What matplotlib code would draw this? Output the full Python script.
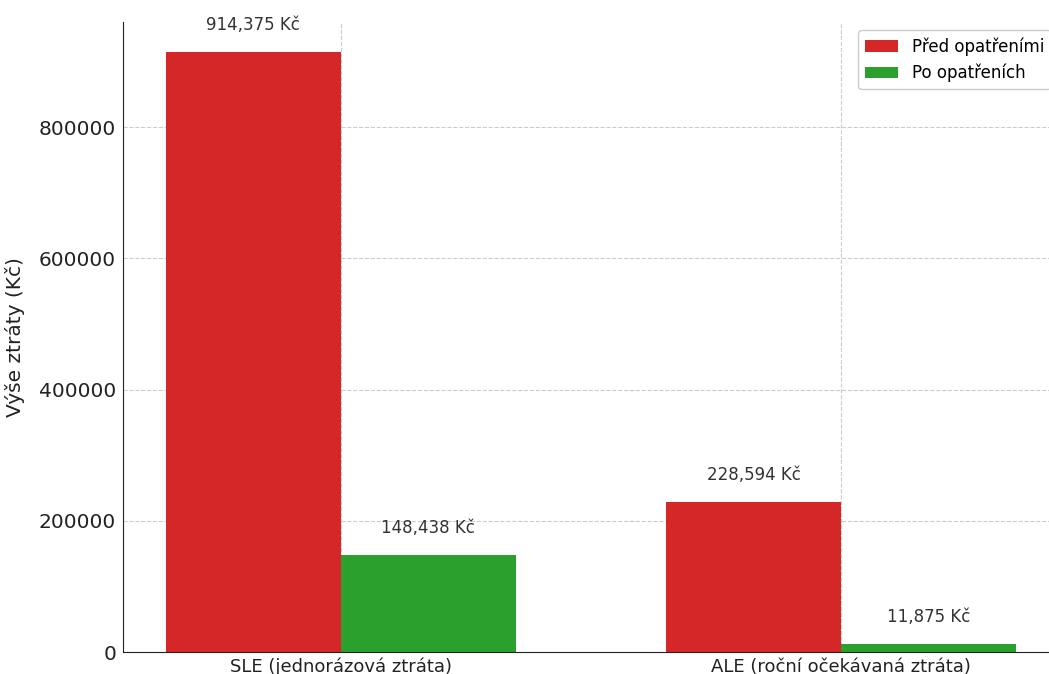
import numpy as np
import matplotlib
matplotlib.use("Agg")
import matplotlib.pyplot as plt

# ── Data ─────────────────────────────────────────────────────────────────────
categories = ["SLE (jednorázová ztráta)", "ALE (roční očekávaná ztráta)"]
before = [914375, 228594]
after = [148438, 11875]
series_labels = ["Před opatřeními", "Po opatřeních"]
colors = ["#d62728", "#2ca02c"]

# ── Plot ─────────────────────────────────────────────────────────────────────
fig = plt.figure(figsize=(10.49, 6.74), dpi=100)
ax = fig.add_axes([123 / 1049, 22 / 674, 936 / 1049, 630 / 674])

x = np.arange(len(categories))
width = 0.35

bars_before = ax.bar(x - width / 2, before, width, color=colors[0],
                     label=series_labels[0], zorder=2)
bars_after = ax.bar(x + width / 2, after, width, color=colors[1],
                    label=series_labels[1], zorder=2)

for bars in (bars_before, bars_after):
    for b in bars:
        h = b.get_height()
        ax.annotate(f"{h:,.0f} Kč", xy=(b.get_x() + b.get_width() / 2, h),
                    xytext=(0, 13), textcoords="offset points",
                    ha="center", va="bottom", fontsize=12, color="#333333")

ax.set_ylim(0, max(before) * 1.05)
ax.set_xticks(x)
ax.set_xticklabels(categories, fontsize=13)
ax.tick_params(axis="y", labelsize=14.5, length=0, pad=5, labelcolor="#222222")
ax.tick_params(axis="x", length=0, pad=4, labelcolor="#222222")
ax.set_ylabel("Výše ztráty (Kč)", fontsize=14.5, labelpad=10, color="#222222")

for side in ("top", "right"):
    ax.spines[side].set_visible(False)
ax.spines["left"].set_color("#222222")
ax.spines["bottom"].set_color("#222222")

ax.grid(True, linestyle="--", color="#cccccc", linewidth=0.8, zorder=0)
ax.set_axisbelow(True)

ax.legend(loc="upper right", fontsize=12, frameon=True, edgecolor="#cccccc",
          fancybox=True, framealpha=1.0)

plt.savefig("out.png", dpi=100)
